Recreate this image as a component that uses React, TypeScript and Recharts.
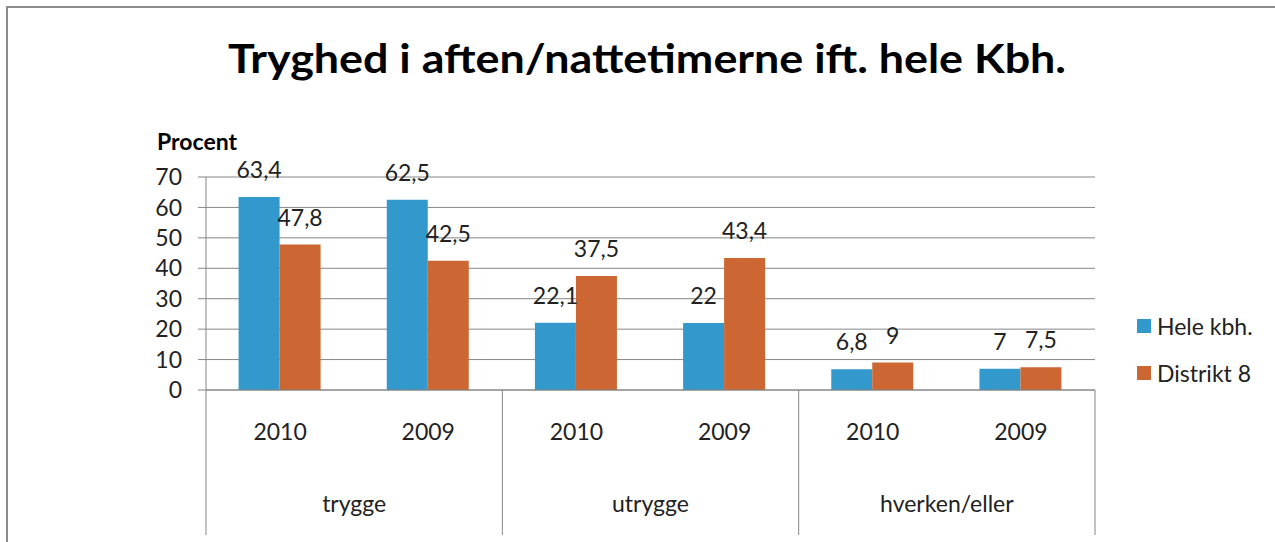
import React from 'react';
import { BarChart, Bar, XAxis, YAxis, CartesianGrid, LabelList, Legend } from 'recharts';

const groups = ['trygge', 'trygge', 'utrygge', 'utrygge', 'hverken/eller', 'hverken/eller'];
const years = ['2010', '2009', '2010', '2009', '2010', '2009'];
const heleKbh = [63.4, 62.5, 22.1, 22, 6.8, 7];
const distrikt8 = [47.8, 42.5, 37.5, 43.4, 9, 7.5];
const yTicks = [0, 10, 20, 30, 40, 50, 60, 70];
const seriesNames = ['Hele kbh.', 'Distrikt 8'];
const seriesColors = ['#3399CC', '#CC6633'];
const title = 'Tryghed i aften/nattetimerne ift. hele Kbh.';
const yAxisTitle = 'Procent';

const data = years.map((y, i) => ({
  year: y,
  group: groups[i],
  hele: heleKbh[i],
  distrikt: distrikt8[i],
}));

const FONT = 'Lato, "Open Sans", sans-serif';
const TEXT = '#222';
const LINE = '#868686';

const fmt = (v: any) => String(v).replace('.', ',');

const YearTick = (props: any) => {
  const { x, y, payload, index } = props;
  const half = payload && payload.offset ? payload.offset : 74;
  const i = index ?? 0;
  const els: any[] = [];
  els.push(
    <text key="yr" x={x} y={y + 50} textAnchor="middle" fontFamily={FONT} fontSize={23} fill={TEXT}>
      {payload.value}
    </text>
  );
  if (i % 2 === 0) {
    els.push(<line key="sepL" x1={x - half} x2={x - half} y1={y} y2={y + 145} stroke={LINE} strokeWidth={1} />);
    els.push(
      <text key="grp" x={x + half} y={y + 122} textAnchor="middle" fontFamily={FONT} fontSize={23} fill={TEXT}>
        {groups[i]}
      </text>
    );
  }
  if (i === years.length - 1) {
    els.push(<line key="sepR" x1={x + half} x2={x + half} y1={y} y2={y + 145} stroke={LINE} strokeWidth={1} />);
  }
  return <g>{els}</g>;
};

const LegendContent = (props: any) => {
  const payload = [...(props.payload || [])].sort(
    (a: any, b: any) => seriesNames.indexOf(a.value) - seriesNames.indexOf(b.value)
  );
  return (
    <div style={{ fontFamily: FONT, fontSize: 23, color: TEXT }}>
      {payload.map((e: any, i: number) => (
        <div key={i} style={{ display: 'flex', alignItems: 'center', height: 47, whiteSpace: 'nowrap' }}>
          <span style={{ display: 'inline-block', width: 14, height: 14, background: e.color, marginRight: 6 }} />
          <span>{e.value}</span>
        </div>
      ))}
    </div>
  );
};

export default function App() {
  return (
    <div style={{ position: 'fixed', left: 0, top: 0, width: 1275, height: 542, overflow: 'hidden', background: '#fff' }}>
      <div style={{ position: 'absolute', left: 6, top: 6, width: 1400, height: 700, border: '2px solid #8c8c8c', boxSizing: 'border-box' }} />
      <div style={{ position: 'absolute', left: 0, top: 0 }}>
        <BarChart
          width={1275}
          height={542}
          data={data}
          margin={{ top: 177, right: 180, left: 0, bottom: 0 }}
          barCategoryGap="22%"
          barGap={0}
          style={{ fontFamily: FONT }}
        >
          <CartesianGrid vertical={false} stroke={LINE} strokeDasharray="" />
          <XAxis
            dataKey="year"
            height={152}
            interval={0}
            tickSize={0}
            tickMargin={0}
            tickLine={false}
            axisLine={{ stroke: LINE }}
            tick={<YearTick />}
          />
          <YAxis
            width={206}
            domain={[0, 70]}
            ticks={yTicks}
            interval={0}
            tickSize={8}
            tickMargin={16}
            axisLine={{ stroke: LINE }}
            tickLine={{ stroke: LINE }}
            tick={{ fontSize: 23, fill: TEXT, fontFamily: FONT }}
          />
          <Legend
            layout="horizontal"
            verticalAlign="middle"
            align="center"
            content={<LegendContent />}
            wrapperStyle={{ left: 1137, top: 302, width: 140, height: 94 }}
          />
          <Bar dataKey="hele" name={seriesNames[0]} fill={seriesColors[0]} isAnimationActive={false}>
            <LabelList dataKey="hele" position="top" offset={19} formatter={fmt} style={{ fontSize: 23, fill: TEXT, fontFamily: FONT }} />
          </Bar>
          <Bar dataKey="distrikt" name={seriesNames[1]} fill={seriesColors[1]} isAnimationActive={false}>
            <LabelList dataKey="distrikt" position="top" offset={19} formatter={fmt} style={{ fontSize: 23, fill: TEXT, fontFamily: FONT }} />
          </Bar>
        </BarChart>
      </div>
      <svg width={1275} height={542} style={{ position: 'absolute', left: 0, top: 0, pointerEvents: 'none' }}>
        <text x={647} y={73} textAnchor="middle" fontFamily={FONT} fontWeight="bold" fontSize={41} fill="#000" textLength={838} lengthAdjust="spacingAndGlyphs">
          {title}
        </text>
        <text x={157} y={150} fontFamily={FONT} fontWeight="bold" fontSize={23} fill="#000">
          {yAxisTitle}
        </text>
      </svg>
    </div>
  );
}
